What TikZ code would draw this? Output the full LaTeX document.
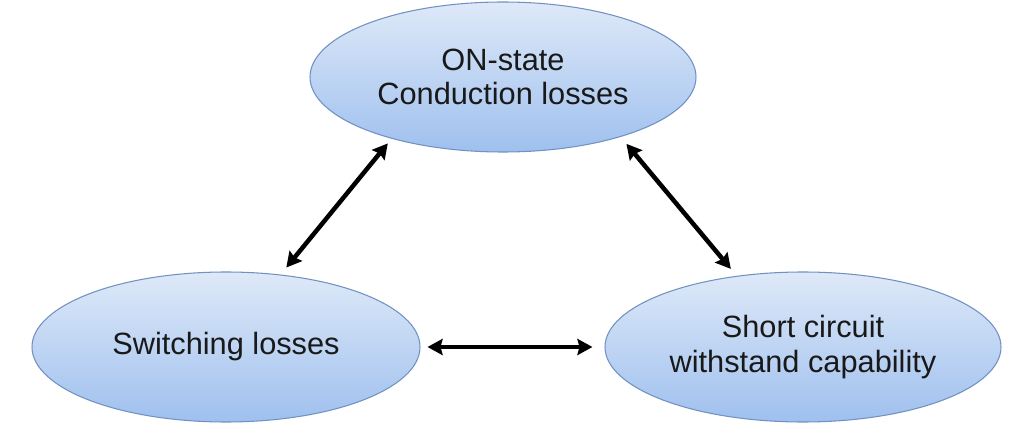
\documentclass[tikz,border=0pt]{standalone}
\usepackage{fontspec}
\setmainfont{Liberation Sans}
\usetikzlibrary{shapes.geometric,arrows.meta}
\definecolor{ovaltop}{HTML}{DEE9F8}
\definecolor{ovalbot}{HTML}{9FC0EE}
\definecolor{ovalline}{HTML}{7191C2}
\tikzset{
  oval/.style={ellipse,draw=ovalline,line width=0.6pt,top color=ovaltop,bottom color=ovalbot,
    inner sep=0pt,minimum height=3cm,align=center,font=\fontsize{17.5}{19.5}\selectfont,text=black!90},
  link/.style={{Stealth[length=0.3cm,width=0.32cm,inset=0.04cm]}-{Stealth[length=0.3cm,width=0.32cm,inset=0.04cm]},line width=0.09cm}
}

\begin{document}
\begin{tikzpicture}
                \useasboundingbox (0,0) rectangle (20.48,8.48);
                \node[oval,minimum width=7.72cm] (con) at (10.06,6.94) {ON-state\\Conduction losses};
                \node[oval,minimum width=7.76cm] (sw) at (4.52,1.54) {Switching losses};
                \node[oval,minimum width=7.92cm] (sc) at (16.06,1.54) {Short circuit\\withstand capability};
                \draw[link,shorten <=0.18cm,shorten >=0.12cm] (sw.53) -- (con.209);
                \draw[link,shorten <=0.18cm,shorten >=0.18cm] (sc.133) -- (con.333);
                \draw[link,shorten <=0.14cm,shorten >=0.24cm] (sw.east) -- (sc.west);
            \end{tikzpicture}
\end{document}
